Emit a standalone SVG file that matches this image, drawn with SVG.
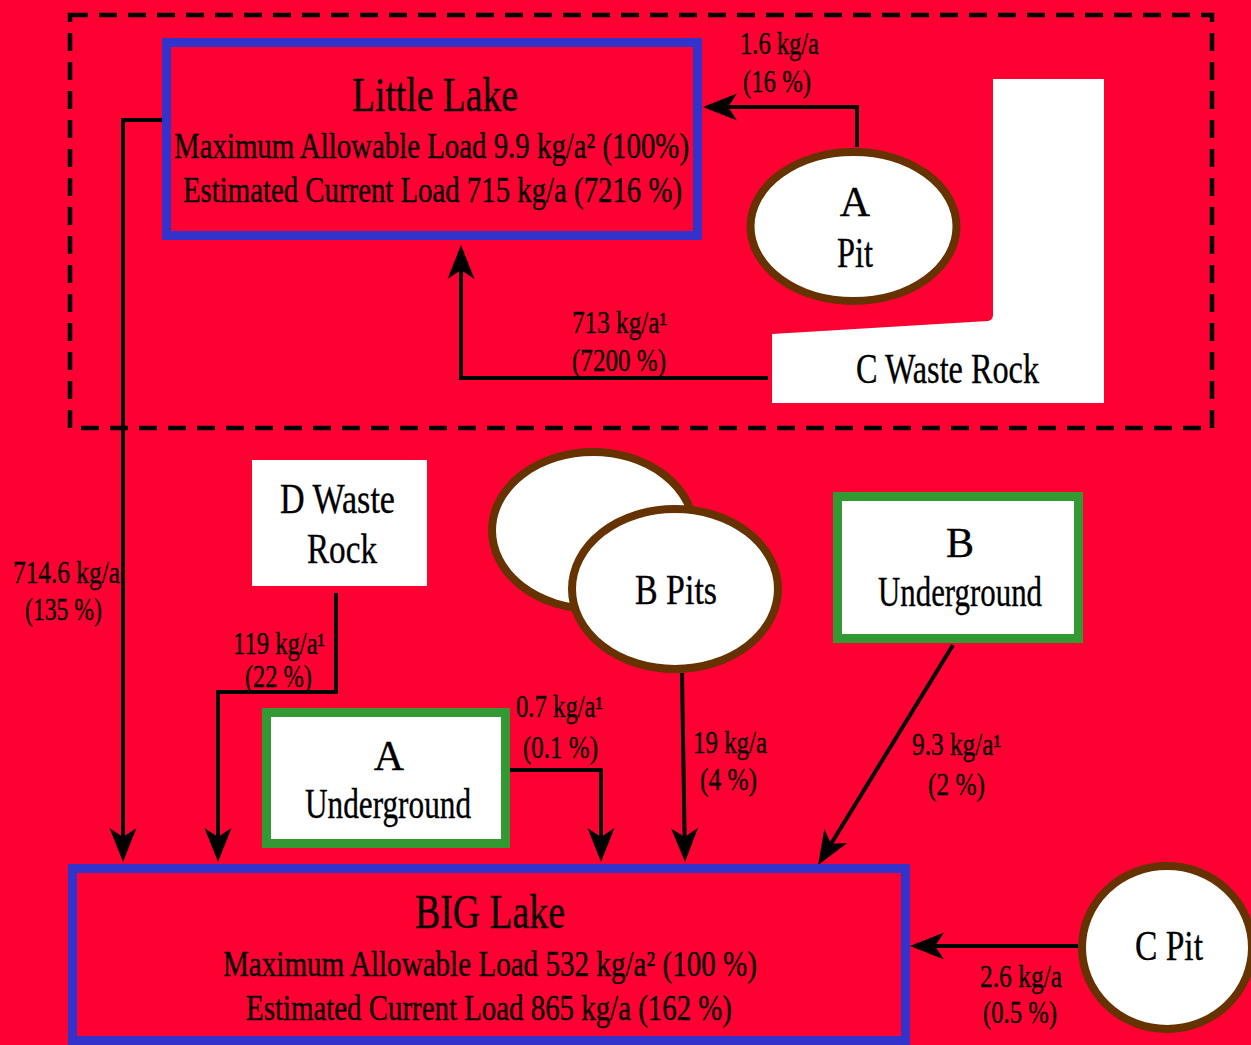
<svg xmlns="http://www.w3.org/2000/svg" width="1251" height="1045" viewBox="0 0 1251 1045">
<defs>
<style>
text{font-family:"Liberation Serif","Times New Roman",serif;fill:#000;stroke:#000;stroke-width:0.35px}
.lbl{font-size:31px}
.nd{font-size:42px}
.ttl{font-size:48px}
.sub{font-size:35px}
.lake{fill:none;stroke:#3333CC;stroke-width:9}
.ug{fill:#fff;stroke:#339933;stroke-width:9}
.pit{fill:#fff;stroke:#663300;stroke-width:8}
.con{fill:none;stroke:#000;stroke-width:4;stroke-linejoin:miter}
</style>
<marker id="ah" markerUnits="userSpaceOnUse" markerWidth="40" markerHeight="30" refX="14" refY="14" orient="auto">
<path d="M34,14 L0,0.5 L9,14 L0,27.5 Z" fill="#000"/>
</marker>
</defs>
<rect x="0" y="0" width="1251" height="1045" fill="#FF0033"/>
<rect id="frame" x="70" y="15" width="1142" height="413" fill="none" stroke="#000" stroke-width="4.5" stroke-dasharray="18 11"/>

<g id="connectors">
<path class="con" d="M857,147 L857,107 L723,107" marker-end="url(#ah)"/>
<path class="con" d="M768,378 L461,378 L461,265" marker-end="url(#ah)"/>
<path class="con" d="M162,120 L123,120 L123,842" marker-end="url(#ah)"/>
<path class="con" d="M336,593 L336,692 L218,692 L218,842" marker-end="url(#ah)"/>
<path class="con" d="M510,770 L601,770 L601,842" marker-end="url(#ah)"/>
<path class="con" d="M682,673 L684.7,842" marker-end="url(#ah)"/>
<path class="con" d="M953,645 L828.5,848" marker-end="url(#ah)"/>
<path class="con" d="M1078,946 L930,946" marker-end="url(#ah)"/>
<text class="lbl" x="740" y="54" textLength="79" lengthAdjust="spacingAndGlyphs">1.6 kg/a</text>
<text class="lbl" x="743" y="92" textLength="68" lengthAdjust="spacingAndGlyphs">(16 %)</text>
<text class="lbl" x="572" y="333" textLength="95" lengthAdjust="spacingAndGlyphs">713 kg/a¹</text>
<text class="lbl" x="572" y="371" textLength="94" lengthAdjust="spacingAndGlyphs">(7200 %)</text>
<text class="lbl" x="13" y="583" textLength="107" lengthAdjust="spacingAndGlyphs">714.6 kg/a</text>
<text class="lbl" x="25" y="620" textLength="77" lengthAdjust="spacingAndGlyphs">(135 %)</text>
<text class="lbl" x="233" y="654" textLength="92" lengthAdjust="spacingAndGlyphs">119 kg/a¹</text>
<text class="lbl" x="245" y="687" textLength="67" lengthAdjust="spacingAndGlyphs">(22 %)</text>
<text class="lbl" x="516" y="717" textLength="87" lengthAdjust="spacingAndGlyphs">0.7 kg/a¹</text>
<text class="lbl" x="523" y="758" textLength="75" lengthAdjust="spacingAndGlyphs">(0.1 %)</text>
<text class="lbl" x="693" y="753" textLength="74" lengthAdjust="spacingAndGlyphs">19 kg/a</text>
<text class="lbl" x="700" y="790" textLength="57" lengthAdjust="spacingAndGlyphs">(4 %)</text>
<text class="lbl" x="912" y="755" textLength="89" lengthAdjust="spacingAndGlyphs">9.3 kg/a¹</text>
<text class="lbl" x="928" y="795" textLength="57" lengthAdjust="spacingAndGlyphs">(2 %)</text>
<text class="lbl" x="980" y="987" textLength="82" lengthAdjust="spacingAndGlyphs">2.6 kg/a</text>
<text class="lbl" x="983" y="1023" textLength="74" lengthAdjust="spacingAndGlyphs">(0.5 %)</text>
</g>

<g id="little-lake">
<rect class="lake" x="166.5" y="42.5" width="531" height="193"/>
<text class="ttl" x="352" y="111" textLength="166" lengthAdjust="spacingAndGlyphs">Little Lake</text>
<text class="sub" x="174" y="158" textLength="515" lengthAdjust="spacingAndGlyphs">Maximum Allowable Load 9.9 kg/a² (100%)</text>
<text class="sub" x="183" y="202" textLength="499" lengthAdjust="spacingAndGlyphs">Estimated Current Load 715 kg/a (7216 %)</text>
</g>

<g id="a-pit">
<ellipse class="pit" cx="853.5" cy="226.5" rx="103" ry="74.5"/>
<text class="nd" x="855" y="216" text-anchor="middle">A</text>
<text class="nd" x="837" y="267" textLength="36" lengthAdjust="spacingAndGlyphs">Pit</text>
</g>

<g id="c-waste-rock">
<path d="M993,79 L1104,79 L1104,403 L772,403 L772,334 L988,321 Q993,320 993,315 Z" fill="#fff"/>
<text class="nd" x="856" y="383" textLength="183" lengthAdjust="spacingAndGlyphs">C Waste Rock</text>
</g>

<g id="d-waste-rock">
<rect x="252" y="460" width="175" height="126" fill="#fff"/>
<text class="nd" x="280" y="513" textLength="115" lengthAdjust="spacingAndGlyphs">D Waste</text>
<text class="nd" x="307" y="563" textLength="70" lengthAdjust="spacingAndGlyphs">Rock</text>
</g>

<g id="b-pits">
<ellipse class="pit" cx="593" cy="530.5" rx="101" ry="78.5"/>
<ellipse class="pit" cx="675" cy="589" rx="103" ry="80"/>
<text class="nd" x="635" y="604" textLength="82" lengthAdjust="spacingAndGlyphs">B Pits</text>
</g>

<g id="b-underground">
<rect class="ug" x="837.5" y="496.5" width="241" height="142"/>
<text class="nd" x="960" y="557" text-anchor="middle">B</text>
<text class="nd" x="878" y="606" textLength="164" lengthAdjust="spacingAndGlyphs">Underground</text>
</g>

<g id="a-underground">
<rect class="ug" x="266.5" y="712.5" width="239" height="131"/>
<text class="nd" x="389" y="770" text-anchor="middle">A</text>
<text class="nd" x="305" y="818" textLength="166" lengthAdjust="spacingAndGlyphs">Underground</text>
</g>

<g id="big-lake">
<rect class="lake" x="72.5" y="868.5" width="833" height="172"/>
<text class="ttl" x="415" y="928" textLength="150" lengthAdjust="spacingAndGlyphs">BIG Lake</text>
<text class="sub" x="223" y="976" textLength="534" lengthAdjust="spacingAndGlyphs">Maximum Allowable Load 532 kg/a² (100 %)</text>
<text class="sub" x="246" y="1020" textLength="486" lengthAdjust="spacingAndGlyphs">Estimated Current Load 865 kg/a (162 %)</text>
</g>

<g id="c-pit">
<ellipse class="pit" cx="1167" cy="947.5" rx="85" ry="81.5" stroke-width="9"/>
<text class="nd" x="1135" y="960" textLength="68" lengthAdjust="spacingAndGlyphs">C Pit</text>
</g>
</svg>
